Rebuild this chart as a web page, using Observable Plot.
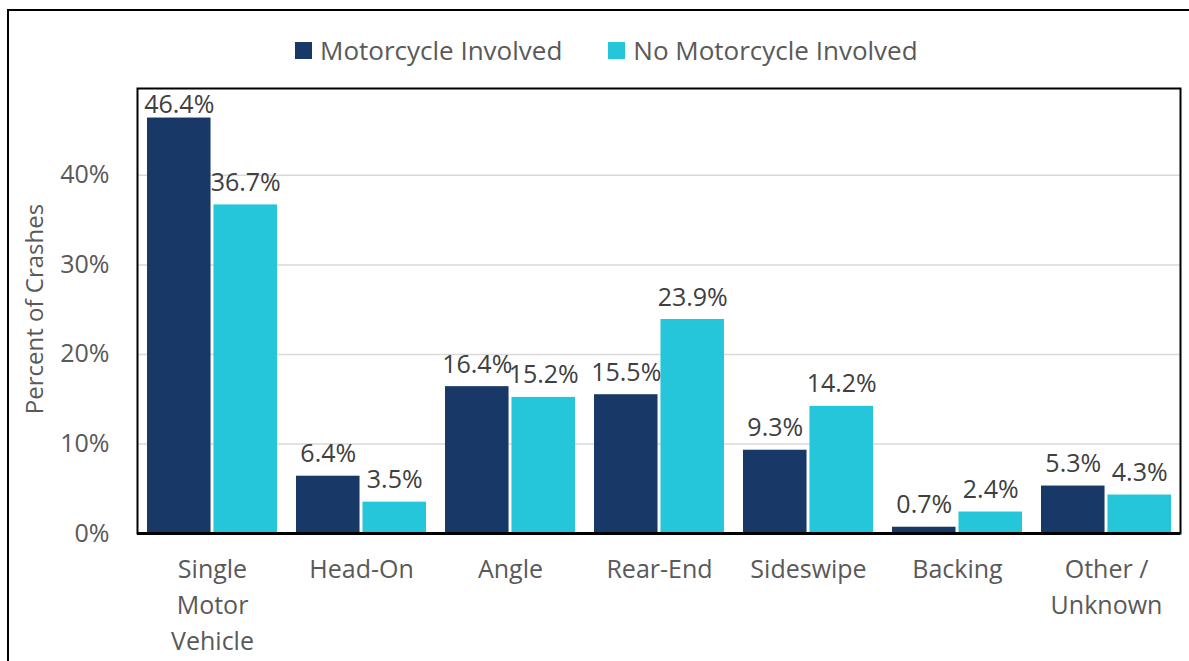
<!DOCTYPE html>
<html>
<head>
<meta charset="utf-8">
<script src="https://cdn.jsdelivr.net/npm/d3@7"></script>
<script src="https://cdn.jsdelivr.net/npm/@observablehq/plot@0.6"></script>
<style>
  body { margin: 0; background: #fff; font-family: "Open Sans", sans-serif; overflow: hidden; }
  #border { position: absolute; left: 7px; top: 9px; width: 1200px; height: 700px; border: 2px solid #000; box-sizing: border-box; }
  #legend { position: absolute; left: 295px; top: 32px; display: flex; align-items: center; font-size: 26px; color: #595959; white-space: nowrap; }
  #legend .sw { width: 17px; height: 17px; margin-right: 8px; display: inline-block; }
  #legend .item { display: flex; align-items: center; margin-right: 46px; }
  #chart { position: absolute; left: 0; top: 70px; }
</style>
</head>
<body>
<div id="border"></div>
<div id="legend"></div>
<div id="chart"></div>
<script>
const categories = ["Single\nMotor\nVehicle", "Head-On", "Angle", "Rear-End", "Sideswipe", "Backing", "Other /\nUnknown"];
const motorcycle = [46.4, 6.4, 16.4, 15.5, 9.3, 0.7, 5.3];
const noMotorcycle = [36.7, 3.5, 15.2, 23.9, 14.2, 2.4, 4.3];
const seriesNames = ["Motorcycle Involved", "No Motorcycle Involved"];
const seriesColors = ["#183868", "#26C6DA"];
const yTicks = [0, 10, 20, 30, 40];
const yTitle = "Percent of Crashes";
const yMax = 49.7;

const data = categories.map((c, i) => ({category: c, moto: motorcycle[i], noMoto: noMotorcycle[i]}));

// legend
const legend = document.getElementById("legend");
seriesNames.forEach((n, i) => {
  const it = document.createElement("span");
  it.className = "item";
  it.innerHTML = `<span class="sw" style="background:${seriesColors[i]}"></span>${n}`;
  legend.appendChild(it);
});

const W = 1189, H = 591;
const mL = 137, mR = 9, mT = 18, mB = 128;
const padInner = 0.128, padOuter = 0.064;
const step = (W - mL - mR) / (categories.length - padInner + 2 * padOuter);
const bw = step * (1 - padInner);
const gap = 3;
const barW = (bw - gap) / 2;
const inset = bw - barW;
const off = (barW + gap) / 2;

const fmt = d => d.toFixed(1) + "%";
// labels near the top of the frame are pulled closer to their bar (as Excel does)
const nearTop = v => v > yMax - 4;

const labelMarks = (key, dx) => [
  Plot.text(data.filter(d => !nearTop(d[key])), {x: "category", y: key, text: d => fmt(d[key]), dx, dy: -14, lineAnchor: "bottom", fill: "#404040", fontSize: 25}),
  Plot.text(data.filter(d => nearTop(d[key])), {x: "category", y: key, text: d => fmt(d[key]), dx, dy: -5, lineAnchor: "bottom", fill: "#404040", fontSize: 25})
];

const chart = Plot.plot({
  width: W, height: H,
  marginLeft: mL, marginRight: mR, marginTop: mT, marginBottom: mB,
  style: {fontFamily: "Open Sans", fontSize: "25px", color: "#595959", background: "transparent"},
  x: {domain: categories, paddingInner: padInner, paddingOuter: padOuter, label: null},
  y: {domain: [0, yMax], label: null},
  marks: [
    Plot.gridY(yTicks.slice(1), {stroke: "#d9d9d9", strokeOpacity: 1, strokeWidth: 1.5}),
    Plot.barY(data, {x: "category", y: "moto", fill: seriesColors[0], insetRight: inset}),
    Plot.barY(data, {x: "category", y: "noMoto", fill: seriesColors[1], insetLeft: inset}),
    ...labelMarks("moto", -off),
    ...labelMarks("noMoto", off),
    Plot.axisY({ticks: yTicks, tickFormat: d => d + "%", tickSize: 0, tickPadding: 28, fontSize: 25, fill: "#595959", label: null}),
    Plot.text([yTitle], {text: d => d, frameAnchor: "left", rotate: -90, dx: -102, dy: -2, fill: "#595959", fontSize: 24, textAnchor: "middle", lineAnchor: "middle"}),
    Plot.axisX({tickSize: 0, tickPadding: 19, fontSize: 25, lineHeight: 1.44, fill: "#595959", label: null}),
    Plot.frame({stroke: "#000", strokeWidth: 2}),
    Plot.ruleY([0], {stroke: "#000", strokeWidth: 3})
  ]
});
document.getElementById("chart").appendChild(chart);
</script>
</body>
</html>
